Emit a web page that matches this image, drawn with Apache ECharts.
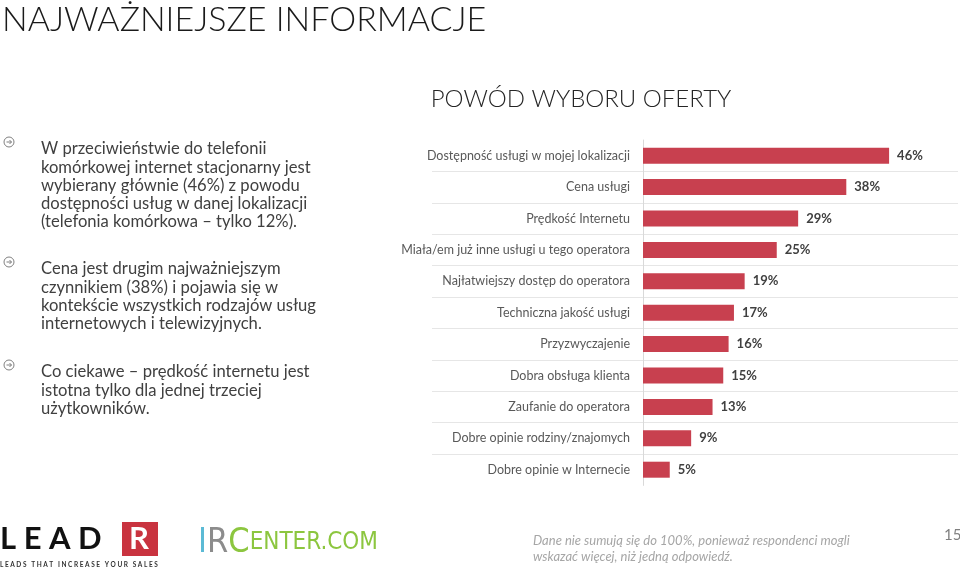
<!DOCTYPE html>
<html>
<head>
<meta charset="utf-8">
<script src="https://cdn.jsdelivr.net/npm/echarts@6/dist/echarts.min.js"></script>
<style>html,body{margin:0;padding:0;background:#fff}#c{width:960px;height:570px}</style>
</head>
<body>
<div id="c"></div>
<script>
const categories = [
  'Dostępność usługi w mojej lokalizacji',
  'Cena usługi',
  'Prędkość Internetu',
  'Miała/em już inne usługi u tego operatora',
  'Najłatwiejszy dostęp do operatora',
  'Techniczna jakość usługi',
  'Przyzwyczajenie',
  'Dobra obsługa klienta',
  'Zaufanie do operatora',
  'Dobre opinie rodziny/znajomych',
  'Dobre opinie w Internecie'
];
const values = [46, 38, 29, 25, 19, 17, 16, 15, 13, 9, 5];

const pageTitle = 'NAJWAŻNIEJSZE INFORMACJE';
const chartTitle = 'POWÓD WYBORU OFERTY';
const bullets = [
  'W przeciwieństwie do telefonii\nkomórkowej internet stacjonarny jest\nwybierany głównie (46%) z powodu\ndostępności usług w danej lokalizacji\n(telefonia komórkowa – tylko 12%).',
  'Cena jest drugim najważniejszym\nczynnikiem (38%) i pojawia się w\nkontekście wszystkich rodzajów usług\ninternetowych i telewizyjnych.',
  'Co ciekawe – prędkość internetu jest\nistotna tylko dla jednej trzeciej\nużytkowników.'
];
const footnote = 'Dane nie sumują się do 100%, ponieważ respondenci mogli\nwskazać więcej, niż jedną odpowiedź.';
const pageNumber = '15';

const FONT = 'Lato, "Open Sans", sans-serif';
const chart = echarts.init(document.getElementById('c'), null, {renderer: 'canvas'});

const bulletTops = [140, 260, 363];
const graphics = [];
graphics.push({type: 'text', left: 2, top: 3, style: {text: pageTitle, font: '300 34px ' + FONT, fill: '#1a1a1a'}});
bullets.forEach((b, i) => {
  const y = bulletTops[i];
  graphics.push({type: 'circle', shape: {cx: 9, cy: y + 2, r: 5}, style: {stroke: '#7f7f7f', fill: 'none', lineWidth: 1}});
  graphics.push({type: 'polyline', shape: {points: [[6.5, y + 2], [11.5, y + 2]]}, style: {stroke: '#7f7f7f', lineWidth: 1}});
  graphics.push({type: 'polyline', shape: {points: [[9.5, y], [11.5, y + 2], [9.5, y + 4]]}, style: {stroke: '#7f7f7f', fill: 'none', lineWidth: 1}});
  graphics.push({type: 'text', left: 41, top: y, style: {text: b, font: '16.6px ' + FONT, fill: '#404040', lineHeight: 18.2}});
});
// LEADR logo
graphics.push({type: 'text', left: 0, top: 523, style: {text: 'L E A D', font: 'bold 31px ' + FONT, fill: '#111'}});
graphics.push({type: 'rect', shape: {x: 122, y: 522, width: 36, height: 34}, style: {fill: '#c9333f'}});
graphics.push({type: 'text', left: 129, top: 523, style: {text: 'R', font: 'bold 31px ' + FONT, fill: '#fff'}});
graphics.push({type: 'text', left: 0, top: 561, style: {text: 'L E A D S   T H A T   I N C R E A S E   Y O U R   S A L E S', font: 'bold 6.5px ' + FONT, fill: '#333'}});
// IRCenter logo
const LF = '"DejaVu Sans Condensed", "Liberation Sans Narrow", ' + FONT;
graphics.push({type: 'text', left: 198, top: 526, style: {rich: {
  a: {font: '34px ' + LF, fill: '#5bbad5'},
  b: {font: '34px ' + LF, fill: '#8c8c8c'},
  c: {font: '34px ' + LF, fill: '#8cc63f'},
  d: {font: '24px ' + LF, fill: '#8cc63f'}
}, text: '{a|I}{b|R}{c|C}{d|ENTER.COM}'}});
graphics.push({type: 'text', left: 533, top: 533, style: {text: footnote, font: 'italic 13px ' + FONT, fill: '#a6a6a6', lineHeight: 16}});
graphics.push({type: 'text', left: 944, top: 528, style: {text: pageNumber, font: '15px ' + FONT, fill: '#7f7f7f'}});

chart.setOption({
  animation: false,
  title: {text: chartTitle, left: 576, top: 82, textAlign: 'center',
    textStyle: {fontFamily: FONT, fontWeight: 300, fontSize: 24, color: '#262626'}},
  grid: [
    {left: 643, right: 49.5, top: 140, bottom: 84.6},
    {left: 432, right: 2, top: 140, bottom: 84.6}
  ],
  xAxis: [
    {gridIndex: 0, type: 'value', min: 0, max: 50, show: false},
    {gridIndex: 1, type: 'value', min: 0, max: 1, show: false}
  ],
  yAxis: [
    {gridIndex: 0, type: 'category', data: categories, inverse: true,
      axisLine: {show: true, lineStyle: {color: '#d9d9d9'}}, axisTick: {show: false},
      axisLabel: {margin: 13, fontFamily: FONT, fontSize: 12.5, color: '#595959'},
      splitLine: {show: false}},
    {gridIndex: 1, type: 'category', data: categories, inverse: true,
      axisLine: {show: false}, axisTick: {show: false}, axisLabel: {show: false},
      splitLine: {show: true, showMinLine: false, showMaxLine: false, lineStyle: {color: '#e6e6e6'}}}
  ],
  series: [{
    type: 'bar', xAxisIndex: 0, yAxisIndex: 0, data: values, barWidth: 16,
    itemStyle: {color: '#c8404f'},
    label: {show: true, position: 'right', distance: 8, formatter: '{c}%',
      fontFamily: FONT, fontWeight: 'bold', fontSize: 13, color: '#404040'}
  }],
  graphic: graphics
});
</script>
</body>
</html>
